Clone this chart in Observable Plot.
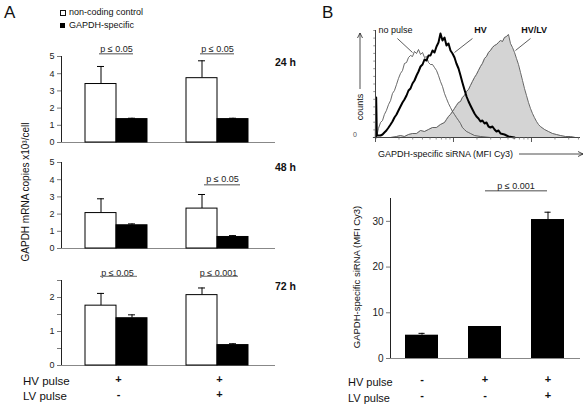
<!DOCTYPE html>
<html><head><meta charset="utf-8">
<script src="https://cdn.jsdelivr.net/npm/d3@7"></script>
<script src="https://cdn.jsdelivr.net/npm/@observablehq/plot@0.6"></script>
<style>
body{margin:0;background:#fff;}
#root{position:relative;width:588px;height:409px;overflow:hidden;font-family:"Liberation Sans",Arial,sans-serif;color:#111;background:#fff;}
.abs{position:absolute;white-space:nowrap;line-height:1;}
.c{transform:translate(-50%,-50%);}
.r90{transform:translate(-50%,-50%) rotate(-90deg);}
#root svg [aria-label^="y-axis"] line, #root svg [aria-label^="y-axis"] path{stroke:#7a7a7a;}
</style></head><body><div id="root"></div>
<script>
// ---------- Panel A data ----------
const groups = ["HV", "HV/LV"];
const hvPulseA = ["+", "+"];
const lvPulseA = ["-", "+"];
const timepoints = ["24 h", "48 h", "72 h"];
const controlMean = [[3.40, 3.74], [2.06, 2.32], [1.76, 2.07]];
const controlSD   = [[1.02, 1.01], [0.83, 0.82], [0.36, 0.21]];
const gapdhMean   = [[1.36, 1.36], [1.35, 0.67], [1.39, 0.60]];
const gapdhSD     = [[0.05, 0.05], [0.08, 0.08], [0.10, 0.04]];
const yMaxA = [5, 5, 2.5];
const yTicksA = [[0, 1, 2, 3, 4, 5], [0, 1, 2, 3, 4, 5], [0, 0.5, 1, 1.5, 2, 2.5]];
const pLabelsA = [["p ≤ 0.05", "p ≤ 0.05"], [null, "p ≤ 0.05"], ["p ≤ 0.05", "p ≤ 0.001"]];
const pTextY = [5.41, 4.05, 2.71];
const pLineY = [5.16, 3.71, 2.62];

// ---------- Panel B data ----------
const treatmentsB = ["no pulse", "HV", "HV/LV"];
const hvPulseB = ["-", "+", "+"];
const lvPulseB = ["-", "-", "+"];
const mfiMean = [5.1, 7.0, 30.4];
const mfiSD = [0.4, 0, 1.6];
const pB = [{from: "HV", to: "HV/LV", label: "p ≤ 0.001"}];

// Histogram (MFI Cy3, counts)
const noPulseHist = [[1.03,0],[1.09,9],[1.16,15],[1.23,17],[1.30,23],[1.38,27],[1.47,33],[1.56,37],[1.65,44],[1.75,47],[1.86,53],[1.97,59],[2.09,64],[2.22,67],[2.35,74],[2.50,75],[2.65,80],[2.81,82],[2.98,81],[3.16,86],[3.36,84],[3.56,88],[3.78,83],[4.01,85],[4.25,80],[4.51,81],[4.78,75],[5.07,73],[5.38,73],[5.71,70],[6.06,67],[6.42,62],[6.81,56],[7.23,51],[7.67,44],[8.13,39],[8.63,34],[9.15,30],[9.71,26],[10.3,23],[10.9,20],[11.6,17],[12.3,14],[13.0,10],[13.8,8],[14.7,6],[15.6,5],[16.5,4],[18.6,2],[22.2,1],[29.8,0]];
const hvHist = [[1.01,0],[1.02,40],[1.04,2],[1.09,2],[1.16,2],[1.23,3],[1.30,5],[1.38,7],[1.47,10],[1.56,13],[1.65,16],[1.75,20],[1.86,23],[1.97,27],[2.09,31],[2.22,35],[2.35,38],[2.50,42],[2.65,47],[2.81,49],[2.98,54],[3.16,57],[3.36,62],[3.56,66],[3.78,71],[4.01,73],[4.25,78],[4.51,77],[4.78,82],[5.07,82],[5.38,87],[5.71,85],[6.06,91],[6.42,95],[6.81,104],[7.23,97],[7.67,100],[8.13,92],[8.63,94],[9.15,87],[9.71,84],[10.3,80],[10.9,74],[11.6,69],[12.3,62],[13.0,55],[13.8,48],[14.7,41],[15.6,36],[16.5,32],[17.5,28],[18.6,24],[19.7,21],[20.9,19],[22.2,16],[23.5,17],[25.0,14],[26.5,15],[28.1,11],[29.8,10],[31.6,11],[33.6,8],[35.6,6],[37.8,7],[40.1,4],[45.1,3],[50.7,1],[60.6,0]];
const hvlvHist = [[1.16,0],[1.56,0],[1.86,1],[2.09,2],[2.35,1],[2.65,3],[2.98,4],[3.36,4],[3.78,7],[4.25,6],[4.78,8],[5.38,10],[6.06,10],[6.81,13],[7.67,15],[8.13,18],[8.63,21],[9.15,23],[9.71,26],[10.3,29],[10.9,32],[11.6,35],[12.3,36],[13.0,40],[13.8,42],[14.7,46],[15.6,48],[16.5,52],[17.5,56],[18.6,60],[19.7,63],[20.9,67],[22.2,71],[23.5,74],[25.0,79],[26.5,81],[28.1,85],[29.8,87],[31.6,90],[33.6,92],[35.6,93],[37.8,95],[40.1,97],[42.5,96],[45.1,100],[47.8,101],[50.7,103],[53.8,94],[57.1,90],[60.6,85],[64.2,79],[68.1,73],[72.3,65],[76.7,57],[81.3,49],[86.3,42],[91.5,35],[97.1,29],[103,24],[109,20],[116,16],[123,13],[130,11],[147,8],[165,6],[186,4],[209,3],[235,2],[273,1],[316,1],[366,0]];
const histDecades = [1, 10, 100];
const histMinor = [2,3,4,5,6,7,8,9,20,30,40,50,60,70,80,90,200,300,400];
const histCountTicks = [7.6,15.3,22.9,30.6,38.2,45.9,53.5,61.1,68.8,76.4,84.1,91.7,99.4,107];
const histLabels = [
  {label: "no pulse", x: 1.80, y: 107, bold: false, lx1: 1.91, ly1: 99, lx2: 2.98, ly2: 85},
  {label: "HV", x: 22.2, y: 107, bold: true, lx1: 17.5, ly1: 99, lx2: 10.3, ly2: 85},
  {label: "HV/LV", x: 108, y: 107, bold: true, lx1: 97.1, ly1: 99, lx2: 62.3, ly2: 87}
];

const FONT = '"Liberation Sans", Arial, sans-serif';
const root = document.getElementById("root");
function place(node, left, top) {
  const d = document.createElement("div");
  d.className = "abs"; d.style.left = left + "px"; d.style.top = top + "px";
  d.appendChild(node); root.appendChild(d); return d;
}
function label(text, x, y, size, cls = "c", extra = {}) {
  const d = document.createElement("div");
  d.className = "abs " + cls;
  d.textContent = text;
  Object.assign(d.style, {left: x + "px", top: y + "px", fontSize: size + "px"}, extra);
  root.appendChild(d); return d;
}
const baseStyle = (fs) => ({fontFamily: FONT, fontSize: fs + "px", color: "#222", background: "transparent", overflow: "visible", maxWidth: "none"});

// ---------- Panel A ----------
const tops = [40, 146, 264];
timepoints.forEach((tp, i) => {
  const rows = groups.map((g, j) => ({
    group: g, control: controlMean[i][j], cTop: controlMean[i][j] + controlSD[i][j],
    gapdh: gapdhMean[i][j], gTop: gapdhMean[i][j] + gapdhSD[i][j],
    hv: hvPulseA[j], lv: lvPulseA[j], p: pLabelsA[i][j]
  }));
  const pRows = rows.filter(d => d.p);
  const last = i === 2;
  const marks = [
    Plot.ruleY([0], {stroke: "#888", strokeWidth: 1.2}),
    Plot.ruleX(rows, {x: "group", y1: "control", y2: "cTop", dx: -15.5, stroke: "#000", strokeWidth: 1}),
    Plot.tickY(rows, {x: "group", y: "cTop", insetLeft: 12, insetRight: 43, stroke: "#000"}),
    Plot.ruleX(rows, {x: "group", y1: "gapdh", y2: "gTop", dx: 15.5, stroke: "#000", strokeWidth: 1}),
    Plot.tickY(rows, {x: "group", y: "gTop", insetLeft: 43, insetRight: 12, stroke: "#000"}),
    Plot.barY(rows, {x: "group", y: "control", fill: "#fff", stroke: "#000", strokeWidth: 1, insetRight: 31}),
    Plot.barY(rows, {x: "group", y: "gapdh", fill: "#000", stroke: "#000", strokeWidth: 1, insetLeft: 31}),
    Plot.text(pRows, {x: "group", y: () => pTextY[i], text: "p", fontSize: 9, fill: "#222", dx: (i === 1 ? 5 : (i === 2 ? 1 : 0))}),
    Plot.tickY(pRows, {x: "group", y: () => pLineY[i], stroke: "#888", strokeWidth: 1.4,
      insetLeft: i === 0 ? 14 : (i === 1 ? 18 : 15), insetRight: i === 0 ? 14 : (i === 1 ? 8 : 10)})
  ];
  if (last) {
    marks.push(Plot.text(rows, {x: "group", text: "hv", frameAnchor: "bottom", dy: 17, dx: 2, fontSize: 11, fontWeight: "bold", fill: "#111"}));
    marks.push(Plot.text(rows, {x: "group", text: "lv", frameAnchor: "bottom", dy: 32, dx: 2, fontSize: 11, fontWeight: "bold", fill: "#111"}));
  }
  const svg = Plot.plot({
    width: 276, height: last ? 145 : 107,
    marginLeft: 61, marginRight: 1, marginTop: 16, marginBottom: last ? 44 : 5,
    style: baseStyle(9),
    x: {domain: groups, paddingInner: 0.389, paddingOuter: 0.249, align: 0.475, axis: null},
    y: {domain: [0, yMaxA[i]], ticks: yTicksA[i], tickFormat: d => Number.isInteger(d) ? d : "", tickSize: 4, tickPadding: 3, line: true, label: null},
    marks
  });
  place(svg, 0, tops[i]);
  label(tp, 296, [62, 167, 286][i], 10.5, "", {transform: "translate(-100%,-50%)", fontWeight: "bold"});
});
label("A", 4, 3.6, 17, "", {});
label("GAPDH mRNA copies x10³/cell", 26, 192, 10, "r90");
label("HV pulse", 23, 382, 11.5, "", {transform: "translateY(-50%)"});
label("LV pulse", 23, 397, 11.5, "", {transform: "translateY(-50%)"});
// legend
label("", 59.5, 9.5, 1, "", {width: "4px", height: "4px", border: "0.8px solid #111", background: "#fff"});
label("non-coding control", 69, 12, 9, "", {transform: "translateY(-50%)"});
label("", 59.5, 22.5, 1, "", {width: "5px", height: "5px", background: "#000"});
label("GAPDH-specific", 69, 25, 9, "", {transform: "translateY(-50%)"});

// ---------- Panel B: histogram ----------
const hist = Plot.plot({
  width: 248, height: 125, marginLeft: 35, marginRight: 8, marginTop: 10, marginBottom: 8,
  style: baseStyle(9),
  x: {type: "log", domain: [1, 425], axis: null},
  y: {domain: [0, 107], axis: null},
  marks: [
    Plot.areaY(hvlvHist, {x: d => d[0], y: d => d[1], fill: "#d4d4d4"}),
    Plot.lineY(hvlvHist, {x: d => d[0], y: d => d[1], stroke: "#555", strokeWidth: 0.9}),
    Plot.lineY(noPulseHist, {x: d => d[0], y: d => d[1], stroke: "#444", strokeWidth: 0.8}),
    Plot.lineY(hvHist, {x: d => d[0], y: d => d[1], stroke: "#000", strokeWidth: 2}),
    Plot.ruleY([0], {x1: 0.94, x2: 425, stroke: "#444", strokeWidth: 1}),
    Plot.ruleX([1], {y1: 0, y2: 107, stroke: "#444", strokeWidth: 1}),
    Plot.ruleX(histMinor, {x: d => d, y1: 0, y2: -2.5, stroke: "#666", strokeWidth: 0.7}),
    Plot.ruleX(histDecades, {x: d => d, y1: 0, y2: -5, stroke: "#444", strokeWidth: 0.9}),
    Plot.ruleY(histCountTicks, {y: d => d, x1: 0.95, x2: 1, stroke: "#666", strokeWidth: 0.7}),
    Plot.link(histLabels, {x1: "lx1", y1: "ly1", x2: "lx2", y2: "ly2", stroke: "#333", strokeWidth: 0.8}),
    Plot.text(histLabels.filter(d => !d.bold), {x: "x", y: "y", text: "label", fontSize: 9, fill: "#111"}),
    Plot.text(histLabels.filter(d => d.bold), {x: "x", y: "y", text: "label", fontSize: 9, fontWeight: "bold", fill: "#111"})
  ]
});
place(hist, 340, 20);
label("B", 322, 3.6, 17, "", {});
label("counts", 360, 107, 9, "r90");
label("0", 355, 134, 7, "c", {color: "#555"});
label("GAPDH-specific siRNA (MFI Cy3)", 378, 154, 9, "", {transform: "translateY(-50%)"});
const ov = document.createElementNS("http://www.w3.org/2000/svg", "svg");
ov.setAttribute("width", 588); ov.setAttribute("height", 409);
ov.setAttribute("style", "position:absolute;left:0;top:0;pointer-events:none;");
ov.innerHTML = '<g stroke="#222" stroke-width="0.8" fill="none">' +
  '<line x1="360" y1="89" x2="360" y2="33"/><polyline points="357.5,38 360,33 362.5,38"/>' +
  '<line x1="519" y1="154" x2="583" y2="154"/><polyline points="578,151.5 583,154 578,156.5"/></g>';
root.appendChild(ov);

// ---------- Panel B: bar chart ----------
const rowsB = treatmentsB.map((t, k) => ({t, mean: mfiMean[k], top: mfiMean[k] + mfiSD[k], sd: mfiSD[k], hv: hvPulseB[k], lv: lvPulseB[k]}));
const errB = rowsB.filter(d => d.sd > 0);
const barB = Plot.plot({
  width: 248, height: 235, marginLeft: 50, marginRight: 8, marginTop: 30, marginBottom: 45,
  style: baseStyle(10),
  x: {domain: treatmentsB, paddingInner: 0.47, paddingOuter: 0.22, axis: null},
  y: {domain: [0, 35], ticks: [0, 10, 20, 30], tickSize: 4, tickPadding: 3, line: true, label: null},
  marks: [
    Plot.ruleY([0], {stroke: "#888", strokeWidth: 1.2}),
    Plot.ruleX(errB, {x: "t", y1: "mean", y2: "top", stroke: "#000"}),
    Plot.tickY(errB, {x: "t", y: "top", insetLeft: 13.5, insetRight: 13.4, stroke: "#000"}),
    Plot.barY(rowsB, {x: "t", y: "mean", fill: "#000"}),
    Plot.ruleY(pB, {x1: "from", x2: "to", y: () => 36.7, insetLeft: 17, insetRight: 17, stroke: "#888", strokeWidth: 1.4}),
    Plot.text(pB, {x: "to", y: () => 37.8, text: "label", dx: -32, fontSize: 9, fill: "#222"}),
    Plot.text(rowsB, {x: "t", text: "hv", frameAnchor: "bottom", dy: 24, fontSize: 11, fontWeight: "bold", fill: "#111"}),
    Plot.text(rowsB, {x: "t", text: "lv", frameAnchor: "bottom", dy: 40, fontSize: 11, fontWeight: "bold", fill: "#111"})
  ]
});
place(barB, 340, 168);
label("GAPDH-specific siRNA (MFI Cy3)", 357, 277, 9.5, "r90");
label("HV pulse", 348, 382, 11, "", {transform: "translateY(-50%)"});
label("LV pulse", 348, 398, 11, "", {transform: "translateY(-50%)"});
</script></body></html>
